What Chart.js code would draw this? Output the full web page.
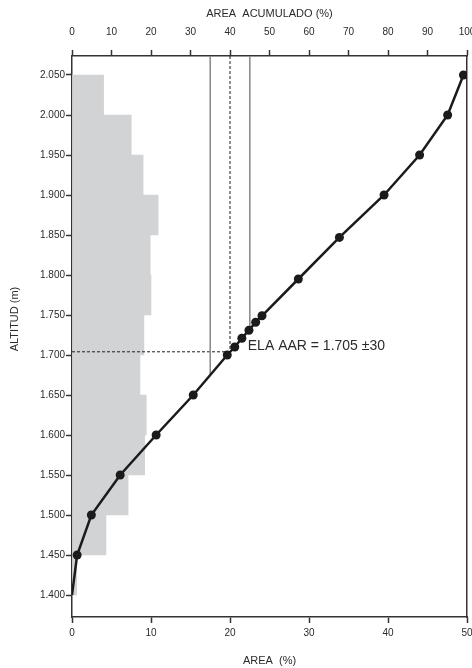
<!DOCTYPE html>
<html lang="es">
<head>
<meta charset="utf-8">
<title>ELA AAR</title>
<script src="https://cdn.jsdelivr.net/npm/chart.js@4.4.1/dist/chart.umd.min.js"></script>
<style>
    html, body { margin: 0; padding: 0; background: #fff; }
    #chart { display: block; }
</style>
</head>
<body>
<canvas id="chart" width="472" height="668"></canvas>
<script>
    // Bandas de 50 m (centro de cada banda) y área de cada banda (%)
    const bandMid = [1425, 1475, 1525, 1575, 1625, 1675, 1725, 1775, 1825, 1875, 1925, 1975, 2025];
    const bandArea = [0.6, 4.3, 7.1, 9.2, 9.4, 8.6, 9.1, 10.0, 9.9, 10.9, 9.0, 7.5, 4.0];

    // Curva de área acumulada (eje superior)
    const cumAltitude = [1400, 1450, 1500, 1550, 1600, 1650, 1700, 1710, 1721, 1731, 1741, 1749, 1795, 1847, 1900, 1950, 2000, 2050];
    const cumArea = [0, 1.3, 4.9, 12.2, 21.3, 30.7, 39.3, 41.2, 43.0, 44.8, 46.5, 48.1, 57.3, 67.7, 79.0, 88.0, 95.1, 99.1];

    // Líneas AAR y altitud donde cortan la curva
    const aarRatios = [35, 40, 45];
    const aarCutAltitude = [1676, 1704, 1731];
    const elaAltitude = 1704;

    // Ticks
    const yTicks = [1400, 1450, 1500, 1550, 1600, 1650, 1700, 1750, 1800, 1850, 1900, 1950, 2000, 2050];
    const yRange = [1372.5, 2073.75];
    const xTicks = [0, 10, 20, 30, 40, 50];
    const x2Ticks = [0, 10, 20, 30, 40, 50, 60, 70, 80, 90, 100];

    const FONT = "'Liberation Sans', Arial, sans-serif";
    const AXIS = '#333333';
    const TEXT = '#2b2b2b';

    function fmtAlt(v) {
        return String(v).replace(/^(\d)(\d{3})$/, '$1.$2');
    }

    function axisGrid() {
        return {
            display: true,
            drawOnChartArea: false,
            drawTicks: true,
            tickLength: 6,
            tickColor: AXIS,
            tickWidth: 1.5
        };
    }

    const border = { display: true, color: AXIS, width: 1.5 };

    // Texto: título del eje Y y etiqueta ELA
    const textPlugin = {
        id: 'textos',
        afterDatasetsDraw(chart) {
            const { ctx, scales } = chart;
            ctx.save();
            ctx.fillStyle = TEXT;

            ctx.font = '14px ' + FONT;
            ctx.textAlign = 'left';
            ctx.textBaseline = 'middle';
            ctx.fillText('ELA AAR = 1.705 \u00b130',
                scales.x2.getPixelForValue(44.5), scales.y.getPixelForValue(1711));

            ctx.font = '11px ' + FONT;
            ctx.textAlign = 'center';
            ctx.translate(15, scales.y.getPixelForValue(1745));
            ctx.rotate(-Math.PI / 2);
            ctx.fillText('ALTITUD (m)', 0, 0);
            ctx.restore();
        }
    };

    const datasets = [];

    datasets.push({
        type: 'line',
        indexAxis: 'y',
        xAxisID: 'x2',
        yAxisID: 'y',
        data: cumAltitude.map((y, i) => ({ x: cumArea[i], y: y })),
        borderColor: '#1b1b1b',
        borderWidth: 2.5,
        tension: 0,
        pointRadius: ctx => ctx.dataIndex === 0 ? 0 : 4.5,
        pointBackgroundColor: '#1b1b1b',
        pointBorderWidth: 0,
        order: 0
    });

    aarRatios.forEach((r, i) => {
        const dashed = r === 40;
        datasets.push({
            type: 'line',
            indexAxis: 'y',
            xAxisID: 'x2',
            yAxisID: 'y',
            data: [{ x: r, y: yRange[1] }, { x: r, y: aarCutAltitude[i] }],
            borderColor: dashed ? '#1e1e1e' : '#8c8c8c',
            borderDash: dashed ? [3, 2] : [],
            borderWidth: 1,
            pointRadius: 0,
            order: 1
        });
    });

    datasets.push({
        type: 'line',
        indexAxis: 'y',
        xAxisID: 'x2',
        yAxisID: 'y',
        data: [{ x: 0, y: elaAltitude }, { x: 40, y: elaAltitude }],
        borderColor: '#1e1e1e',
        borderDash: [3, 2],
        borderWidth: 1,
        pointRadius: 0,
        order: 1
    });

    datasets.push({
        type: 'bar',
        indexAxis: 'y',
        xAxisID: 'x',
        yAxisID: 'y',
        data: bandMid.map((y, i) => ({ x: bandArea[i], y: y })),
        backgroundColor: '#d2d3d5',
        borderWidth: 0,
        barPercentage: 1,
        categoryPercentage: 1,
        order: 2
    });

    new Chart(document.getElementById('chart'), {
        type: 'bar',
        data: { datasets: datasets },
        plugins: [textPlugin],
        options: {
            indexAxis: 'y',
            responsive: false,
            animation: false,
            devicePixelRatio: 1,
            events: [],
            layout: { padding: { top: 0, left: 0, right: 5, bottom: 0 } },
            plugins: {
                legend: { display: false },
                tooltip: { enabled: false }
            },
            scales: {
                y: {
                    type: 'linear',
                    position: 'left',
                    min: yRange[0],
                    max: yRange[1],
                    offset: false,
                    grid: Object.assign(axisGrid(), { offset: false }),
                    border: border,
                    afterBuildTicks: scale => { scale.ticks = yTicks.map(v => ({ value: v })); },
                    afterFit: scale => { scale.width = 72; },
                    ticks: {
                        padding: 1,
                        autoSkip: false,
                        color: TEXT,
                        font: { family: FONT, size: 10 },
                        callback: v => fmtAlt(v)
                    },
                    title: { display: false }
                },
                y2: {
                    type: 'linear',
                    position: 'right',
                    display: true,
                    grid: { display: false, drawTicks: false },
                    border: border,
                    ticks: { display: false },
                    afterFit: scale => { scale.width = 0; }
                },
                x: {
                    type: 'linear',
                    position: 'bottom',
                    min: 0,
                    max: 50,
                    grid: axisGrid(),
                    border: border,
                    afterBuildTicks: scale => { scale.ticks = xTicks.map(v => ({ value: v })); },
                    afterFit: scale => {
                        scale.height = 51;
                        scale.paddingLeft = 0;
                        scale.paddingRight = 0;
                    },
                    ticks: {
                        padding: 4,
                        maxRotation: 0,
                        autoSkip: false,
                        color: TEXT,
                        font: { family: FONT, size: 10 }
                    },
                    title: {
                        display: true,
                        text: 'AREA  (%)',
                        color: TEXT,
                        font: { family: FONT, size: 11, lineHeight: 1.2 },
                        padding: { top: 0, bottom: 0 }
                    }
                },
                x2: {
                    type: 'linear',
                    position: 'top',
                    min: 0,
                    max: 100,
                    grid: axisGrid(),
                    border: border,
                    afterBuildTicks: scale => { scale.ticks = x2Ticks.map(v => ({ value: v })); },
                    afterFit: scale => {
                        scale.height = 56;
                        scale.paddingLeft = 0;
                        scale.paddingRight = 0;
                    },
                    ticks: {
                        padding: 12,
                        maxRotation: 0,
                        autoSkip: false,
                        color: TEXT,
                        font: { family: FONT, size: 10 }
                    },
                    title: {
                        display: true,
                        text: 'AREA  ACUMULADO (%)',
                        color: TEXT,
                        font: { family: FONT, size: 11, lineHeight: 1.2 },
                        padding: { top: 7, bottom: 0 }
                    }
                }
            }
        }
    });
</script>
</body>
</html>
